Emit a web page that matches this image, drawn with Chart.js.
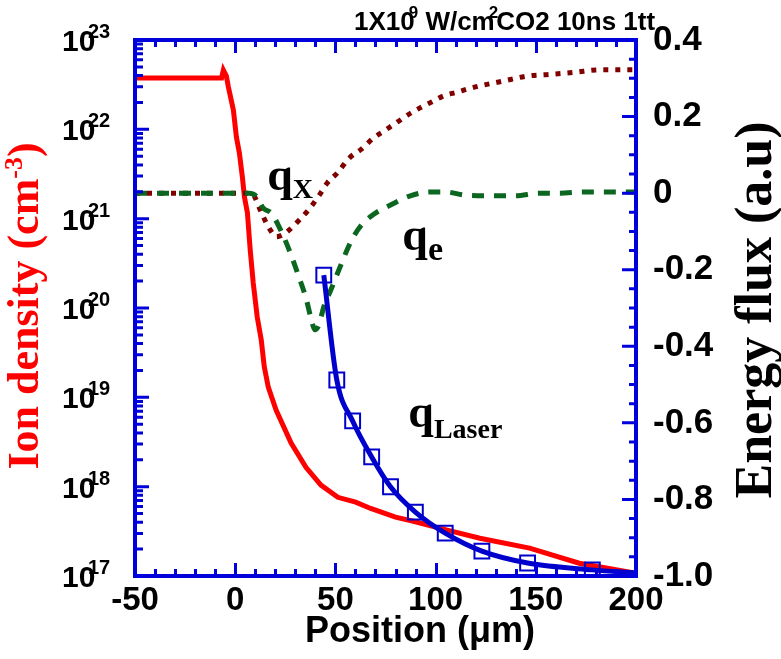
<!DOCTYPE html>
<html><head><meta charset="utf-8">
<script src="https://cdn.jsdelivr.net/npm/chart.js@4/dist/chart.umd.min.js"></script>
<style>html,body{margin:0;padding:0;background:#fff;}#wrap{width:781px;height:659px;}</style>
</head><body><div id="wrap"><canvas id="c" width="781" height="659"></canvas></div>
<script>
// ---- data ----
const ionX = [-50, -6.8, -5.9, -4.4, -3.4, -0.9, 0.6, 2.1, 3.6, 4.6, 6.1, 7.5, 9.0, 11.0, 13.0, 14.5, 16.5, 20.4, 27.9, 35.3, 42.8, 51.2, 60.1, 67.6, 80.0, 88.9, 105.8, 122.1, 146.9, 171.7, 200];
const ionY = [3.75e22, 3.75e22, 4.6e22, 3.95e22, 2.98e22, 1.64e22, 8.2e21, 5.4e21, 2.9e21, 1.75e21, 1.16e21, 4.45e20, 1.9e20, 7.9e19, 4.4e19, 2.2e19, 1.3e19, 7.2e18, 3.07e18, 1.65e18, 1.04e18, 7.6e17, 6.7e17, 5.7e17, 4.55e17, 4.1e17, 3.26e17, 2.65e17, 2.05e17, 1.39e17, 1.07e17];

const qxX = [-50, 8, 13, 15.5, 18, 20.5, 24, 27, 32, 37, 42, 46, 51, 57, 63, 69, 75, 81, 86, 92, 98, 104, 111, 116, 122, 134, 146, 157, 170, 181, 200];
const qxY = [0, 0, -0.05, -0.078, -0.10, -0.114, -0.108, -0.096, -0.07, -0.041, -0.005, 0.027, 0.053, 0.092, 0.115, 0.144, 0.165, 0.186, 0.204, 0.222, 0.238, 0.254, 0.264, 0.272, 0.280, 0.293, 0.306, 0.310, 0.316, 0.322, 0.322];

const qeX = [-50, 7, 10.5, 14, 18, 21.9, 26.9, 31.8, 35.3, 37.8, 39.8, 41.8, 44.2, 47.7, 52.7, 57.6, 62.6, 68.6, 77.5, 87.4, 97.3, 104.8, 114.7, 127.1, 139.5, 151.9, 161.8, 174.2, 186.6, 200];
const qeY = [0, 0, -0.008, -0.039, -0.052, -0.088, -0.148, -0.219, -0.274, -0.326, -0.357, -0.344, -0.297, -0.253, -0.188, -0.128, -0.086, -0.057, -0.031, -0.007, 0.003, 0.003, -0.005, -0.007, -0.007, 0, 0, 0.003, 0.003, 0.003];

const qlX = [44.2, 50.7, 58.6, 68.1, 77.5, 89.9, 104.8, 123.1, 145.9, 178.2, 200];
const qlY = [-0.214, -0.488, -0.595, -0.689, -0.767, -0.833, -0.888, -0.935, -0.966, -0.984, -0.992];
const qlMarked = [1, 1, 1, 1, 1, 1, 1, 1, 1, 1, 0];

const xTickValues = [-50, 0, 50, 100, 150, 200];
const xTickLabels = ['-50', '0', '50', '100', '150', '200'];
const leftTickExps = [17, 18, 19, 20, 21, 22, 23];
const rightTickValues = [0.4, 0.2, 0, -0.2, -0.4, -0.6, -0.8, -1.0];
const rightTickLabels = ['0.4', '0.2', '0', '-0.2', '-0.4', '-0.6', '-0.8', '-1.0'];

// ---- styles ----
const FRAME = '#0000dd';
const SANS = '"Liberation Sans", Arial, sans-serif';
const SERIF = '"Liberation Serif", "Times New Roman", serif';

const pts = (xs, ys) => xs.map((x, i) => ({x: x, y: ys[i]}));
const labelFor = (vals, labs, v) => { const i = vals.findIndex(t => Math.abs(t - v) < 1e-6); return i >= 0 ? labs[i] : ''; };

const decor = {
  id: 'decor',
  afterDatasetsDraw(chart) {
    const {ctx, chartArea: a, scales} = chart;
    const sx = scales.x, sl = scales.yL, sr = scales.yR;
    ctx.save();
    ctx.strokeStyle = FRAME;
    ctx.lineWidth = 3;
    ctx.beginPath();
    for (let v = -50; v <= 200; v += 10) {
      const px = Math.round(sx.getPixelForValue(v)) + 0.5;
      const len = (v % 50 === 0) ? 13 : 7;
      ctx.moveTo(px, a.bottom); ctx.lineTo(px, a.bottom - len);
      ctx.moveTo(px, a.top); ctx.lineTo(px, a.top + len);
    }
    for (let e = 17; e < 23; e++) {
      for (let m = 1; m <= 9; m++) {
        const py = sl.getPixelForValue(m * Math.pow(10, e));
        const len = (m === 1) ? 14 : 8;
        ctx.moveTo(a.left, py); ctx.lineTo(a.left + len, py);
      }
    }
    for (let k = 0; k <= 28; k++) {
      const v = -1.0 + k * 0.05;
      const py = sr.getPixelForValue(v);
      const len = (k % 4 === 0) ? 14 : 7;
      ctx.moveTo(a.right, py); ctx.lineTo(a.right - len, py);
    }
    ctx.stroke();
    ctx.lineWidth = 4;
    ctx.strokeRect(a.left, a.top, a.right - a.left, a.bottom - a.top);
    ctx.restore();
  },
  afterDraw(chart) {
    const {ctx, chartArea: a, scales} = chart;
    const sx = scales.x, sl = scales.yL, sr = scales.yR;
    ctx.save();
    ctx.fillStyle = '#000';
    leftTickExps.forEach(e => {
      const py = sl.getPixelForValue(Math.pow(10, e));
      ctx.textAlign = 'left'; ctx.textBaseline = 'alphabetic';
      ctx.font = 'bold 30px ' + SANS;
      ctx.fillText('10', a.left - 73, py + 11);
      ctx.font = 'bold 20px ' + SANS;
      ctx.fillText(String(e), a.left - 47, py - 2);
    });
    // top title with superscripts
    let x = 354; const by = 30;
    ctx.font = 'bold 26px ' + SANS;
    ctx.fillText('1X10', x, by); x += ctx.measureText('1X10').width;
    ctx.font = 'bold 17px ' + SANS;
    ctx.fillText('9', x - 6, by - 12); x += ctx.measureText('9').width - 6;
    ctx.font = 'bold 26px ' + SANS;
    ctx.fillText(' W/cm', x, by); x += ctx.measureText(' W/cm').width;
    ctx.font = 'bold 17px ' + SANS;
    ctx.fillText('2', x - 6, by - 12); x += ctx.measureText('2').width - 8;
    ctx.font = 'bold 26px ' + SANS;
    ctx.fillText('CO2 10ns 1tt', x, by);

    const ann = (xv, yv, sub, subSize, dy) => {
      const px = sx.getPixelForValue(xv), py = sr.getPixelForValue(yv);
      ctx.font = 'bold 46px ' + SERIF;
      ctx.textAlign = 'left'; ctx.textBaseline = 'alphabetic';
      ctx.fillText('q', px, py);
      const w = ctx.measureText('q').width;
      ctx.font = 'bold ' + subSize + 'px ' + SERIF;
      ctx.fillText(sub, px + w, py + dy);
    };
    ann(16.0, 0.008, 'X', 28, 8);
    ann(83.4, -0.148, 'e', 34, 10);
    ann(86.4, -0.611, 'Laser', 28, 11);

    // left axis title (rotated) with superscript
    ctx.save();
    ctx.translate(38, 306);
    ctx.rotate(-Math.PI / 2);
    ctx.fillStyle = '#ff0000';
    ctx.textBaseline = 'alphabetic';
    ctx.font = 'bold 44px ' + SERIF;
    const t1 = 'Ion density (cm', t3 = ')';
    const w1 = ctx.measureText(t1).width, w3 = ctx.measureText(t3).width;
    ctx.font = 'bold 26px ' + SERIF;
    const w2 = ctx.measureText('-3').width;
    let tx = -(w1 + w2 + w3) / 2;
    ctx.font = 'bold 44px ' + SERIF;
    ctx.textAlign = 'left';
    ctx.fillText(t1, tx, 0); tx += w1;
    ctx.font = 'bold 26px ' + SERIF;
    ctx.fillText('-3', tx, -16); tx += w2;
    ctx.font = 'bold 44px ' + SERIF;
    ctx.fillText(t3, tx, 0);
    ctx.restore();

    // right axis title
    ctx.save();
    ctx.translate(771, 310);
    ctx.rotate(-Math.PI / 2);
    ctx.fillStyle = '#000';
    ctx.textAlign = 'center'; ctx.textBaseline = 'alphabetic';
    ctx.font = 'bold 52px ' + SERIF;
    ctx.fillText('Energy flux (a.u)', 0, 0);
    ctx.restore();

    // x axis title
    ctx.textAlign = 'center'; ctx.textBaseline = 'alphabetic';
    ctx.font = 'bold 36px ' + SANS;
    ctx.fillText('Position (\u03bcm)', 420, 642);
    ctx.restore();
  }
};

new Chart(document.getElementById('c'), {
  type: 'line',
  data: {
    datasets: [
      {label: 'qLaser', data: pts(qlX, qlY), yAxisID: 'yR', borderColor: '#0000cc', borderWidth: 5,
       pointStyle: 'rect', pointRadius: qlMarked.map(m => m ? 10.5 : 0), pointBorderWidth: 2,
       pointBorderColor: '#0000cc', pointBackgroundColor: 'rgba(0,0,0,0)', cubicInterpolationMode: 'monotone', fill: false},
      {label: 'qe', data: pts(qeX, qeY), yAxisID: 'yR', borderColor: '#0b661f', borderWidth: 5, borderDash: [12, 10],
       pointRadius: 0, cubicInterpolationMode: 'monotone', fill: false},
      {label: 'qX', data: pts(qxX, qxY), yAxisID: 'yR', borderColor: '#800000', borderWidth: 5, borderDash: [5, 7],
       pointRadius: 0, cubicInterpolationMode: 'monotone', fill: false},
      {label: 'Ion density', data: pts(ionX, ionY), yAxisID: 'yL', borderColor: '#ff0000', borderWidth: 5,
       pointRadius: 0, tension: 0, fill: false}
    ]
  },
  options: {
    responsive: false, animation: false, devicePixelRatio: 1,
    layout: {padding: {top: 40, left: 0, right: 0, bottom: 0}},
    plugins: {legend: {display: false}, title: {display: false}, tooltip: {enabled: false}},
    scales: {
      x: {type: 'linear', position: 'bottom', min: -50, max: 200,
          grid: {display: false, drawTicks: false}, border: {display: false},
          afterBuildTicks: s => { s.ticks = xTickValues.map(v => ({value: v})); },
          ticks: {color: '#000', font: {family: SANS, size: 33, weight: 'bold'}, padding: 5, maxRotation: 0, autoSkip: false,
                  callback: v => labelFor(xTickValues, xTickLabels, v)},
          afterFit: s => { s.height = 83; }},
      yL: {type: 'logarithmic', position: 'left', min: 1e17, max: 1e23,
           grid: {display: false, drawTicks: false}, border: {display: false},
           ticks: {display: false},
           afterFit: s => { s.width = 135; }},
      yR: {type: 'linear', position: 'right', min: -1.0, max: 0.4,
           grid: {display: false, drawTicks: false}, border: {display: false},
           afterBuildTicks: s => { s.ticks = rightTickValues.map(v => ({value: v})); },
           ticks: {color: '#000', font: {family: SANS, size: 35, weight: 'bold'}, padding: 17, autoSkip: false,
                   callback: v => labelFor(rightTickValues, rightTickLabels, v)},
           afterFit: s => { s.width = 145; }}
    }
  },
  plugins: [decor]
});
</script>
</body></html>
